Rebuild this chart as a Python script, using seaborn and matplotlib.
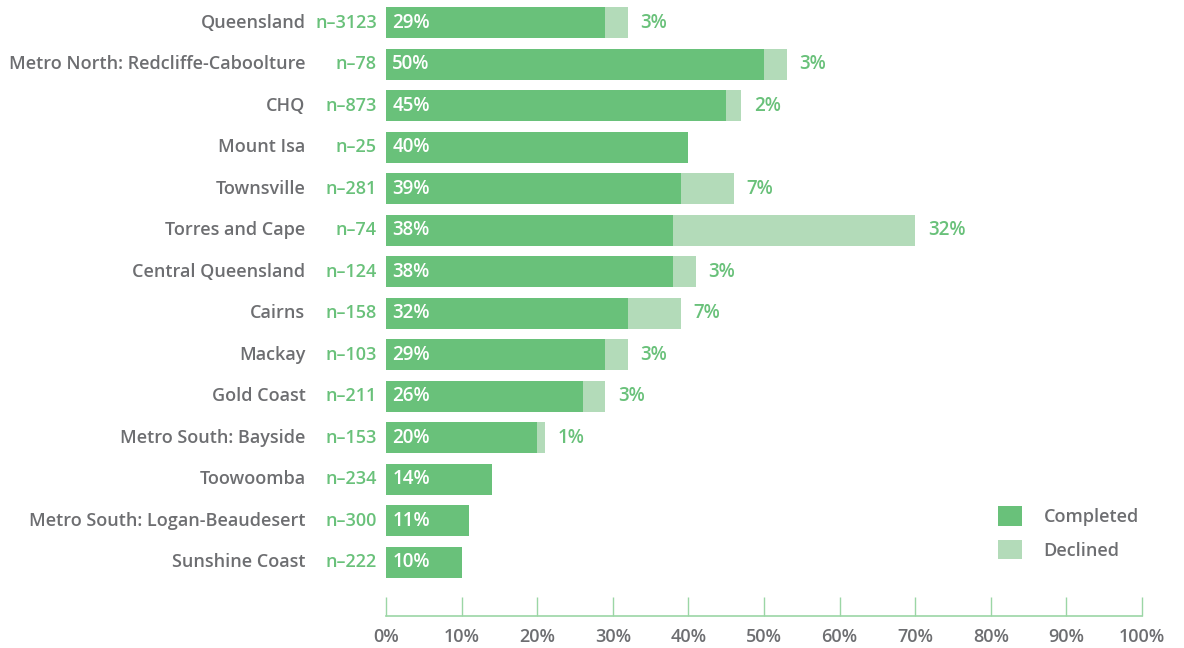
import matplotlib
matplotlib.use("Agg")
import matplotlib.pyplot as plt
import seaborn as sns
import pandas as pd
from matplotlib.patches import Patch

categories = ["Queensland", "Metro North: Redcliffe-Caboolture", "CHQ", "Mount Isa",
              "Townsville", "Torres and Cape", "Central Queensland", "Cairns", "Mackay",
              "Gold Coast", "Metro South: Bayside", "Toowoomba",
              "Metro South: Logan-Beaudesert", "Sunshine Coast"]
n_labels = ["n–3123", "n–78", "n–873", "n–25", "n–281", "n–74", "n–124", "n–158",
            "n–103", "n–211", "n–153", "n–234", "n–300", "n–222"]
completed = [29, 50, 45, 40, 39, 38, 38, 32, 29, 26, 20, 14, 11, 10]
declined = [3, 3, 2, 0, 7, 32, 3, 7, 3, 3, 1, 0, 0, 0]
xticks = [0, 10, 20, 30, 40, 50, 60, 70, 80, 90, 100]

DARK = "#69c17a"
LIGHT = "#b3dbb9"
GREY = "#6d6e71"
TICKC = "#9bd6a5"

sns.set_theme(style="white")
plt.rcParams["font.family"] = ["Open Sans", "DejaVu Sans"]

df = pd.DataFrame({"cat": categories, "completed": completed, "declined": declined})
df["total"] = df["completed"] + df["declined"]

fig = plt.figure(figsize=(11.84, 6.48), dpi=100)
ax = fig.add_axes([386 / 1184, (648 - 616) / 648, (1142 - 386) / 1184, 616 / 648])

sns.barplot(data=df, y="cat", x="total", color=LIGHT, orient="h", width=0.75,
            saturation=1, ax=ax, order=categories, linewidth=0)
sns.barplot(data=df, y="cat", x="completed", color=DARK, orient="h", width=0.75,
            saturation=1, ax=ax, order=categories, linewidth=0)

ax.set_xlim(0, 100)
ax.set_ylim(14.3, -0.55)
ax.set_xlabel("")
ax.set_ylabel("")
ax.set_yticks([])
ax.set_xticks(xticks)
ax.set_xticklabels([f"{t}%" for t in xticks], color=GREY, fontsize=13, fontweight="semibold")
ax.tick_params(axis="x", bottom=True, direction="in", length=14, width=1, color=TICKC, pad=9)
for s in ["top", "right", "left"]:
    ax.spines[s].set_visible(False)
ax.spines["bottom"].set_color(TICKC)
ax.spines["bottom"].set_linewidth(1.2)

for i, (c, n, comp, dec) in enumerate(zip(categories, n_labels, completed, declined)):
    ax.annotate(c, xy=(0, i), xytext=(-58, 0), textcoords="offset points",
                ha="right", va="center", color=GREY, fontsize=13, fontweight="semibold")
    ax.annotate(n, xy=(0, i), xytext=(-6.5, 0), textcoords="offset points",
                ha="right", va="center", color=DARK, fontsize=13, fontweight="semibold")
    ax.annotate(f"{comp}%", xy=(0, i), xytext=(4.5, 0), textcoords="offset points",
                ha="left", va="center", color="white", fontsize=13.5, fontweight="semibold")
    if dec > 0:
        ax.annotate(f"{dec}%", xy=(comp + dec, i), xytext=(9, 0), textcoords="offset points",
                    ha="left", va="center", color=DARK, fontsize=13.5, fontweight="semibold")

handles = [Patch(facecolor=DARK, edgecolor="none", label="Completed"),
           Patch(facecolor=LIGHT, edgecolor="none", label="Declined")]
leg = fig.legend(handles=handles, loc="upper left", bbox_to_anchor=(982 / 1184, 1 - 490 / 648),
                 frameon=False, handlelength=1.3, handleheight=1.3, handletextpad=1.2,
                 labelspacing=0.75, fontsize=13, labelcolor=GREY)
for t in leg.get_texts():
    t.set_fontweight("semibold")

fig.savefig("out.png", dpi=100)
